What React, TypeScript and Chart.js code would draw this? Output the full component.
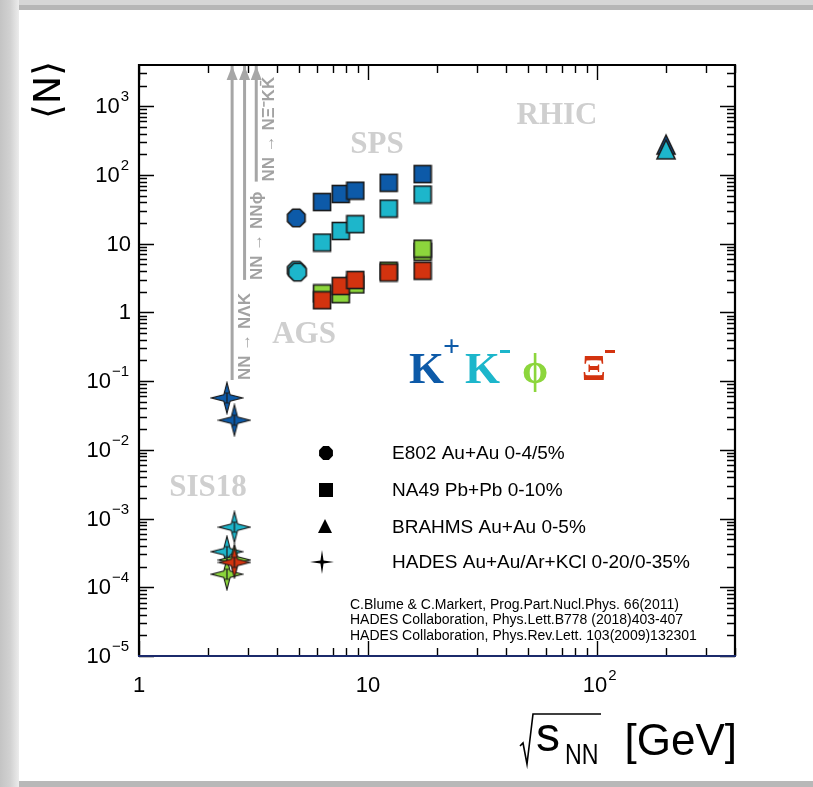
import { useEffect, useRef } from 'react';
import { Chart, registerables } from 'chart.js';

Chart.register(...registerables);

// ---- data: √s_NN in GeV, mean multiplicity ⟨N⟩ ----
const X_MIN = 1;
const X_MAX = 400;
const Y_MIN = 1e-5;
const Y_MAX = 3981;

const E802_SQRTS = [4.86];
const E802_KPLUS = [23.7];
const E802_KMINUS_SQRTS = [4.86, 4.92];
const E802_KMINUS = [4.1, 3.85];

const NA49_SQRTS = [6.3, 7.6, 8.8, 12.3, 17.3];
const NA49_KPLUS = [40.4, 52.9, 59.1, 76.9, 103.0];
const NA49_KMINUS = [10.4, 15.3, 19.2, 32.4, 51.9];
const NA49_XI = [1.5, 2.42, 2.96, 3.8, 4.04];
const NA49_PHI_SQRTS = [6.3, 7.6, 8.8, 12.3, 17.3, 17.3];
const NA49_PHI = [1.89, 1.84, 2.55, 4.04, 7.6, 8.46];

const BRAHMS_SQRTS = [200];
const BRAHMS_KPLUS = [272];
const BRAHMS_KMINUS = [232];

const HADES_KPLUS_SQRTS = [2.42, 2.61];
const HADES_KPLUS = [0.057, 0.027];
const HADES_KMINUS_SQRTS = [2.61, 2.42];
const HADES_KMINUS = [7.5e-4, 3.3e-4];
const HADES_PHI_SQRTS = [2.61, 2.42];
const HADES_PHI = [2.5e-4, 1.55e-4];
const HADES_XI_SQRTS = [2.61];
const HADES_XI = [2.3e-4];

// production thresholds in NN collisions
const THRESH_SQRTS = [2.55, 2.89, 3.25];
const THRESH_FROM = [0.104, 2.97, 80];
const THRESH_LABELS = ['NN → NΛK', 'NN → NNϕ', 'NN → NΞ⁻KK̄'];

const REGION_LABELS = ['SIS18', 'AGS', 'SPS', 'RHIC'];
const LEGEND_LABELS = [
  'E802 Au+Au 0-4/5%',
  'NA49 Pb+Pb 0-10%',
  'BRAHMS Au+Au 0-5%',
  'HADES Au+Au/Ar+KCl 0-20/0-35%',
];
const REFERENCES = [
  'C.Blume & C.Markert, Prog.Part.Nucl.Phys. 66(2011)',
  'HADES Collaboration, Phys.Lett.B778 (2018)403-407',
  'HADES Collaboration, Phys.Rev.Lett. 103(2009)132301',
];

// ---- styling ----
const W = 813;
const H = 787;
const PLOT = { left: 139, top: 65, right: 735, bottom: 656 };
const COL_KPLUS = '#0d5aa8';
const COL_KMINUS = '#1db6cb';
const COL_PHI = '#8cd63c';
const COL_XI = '#d3330f';
const EDGE = '#1a1a1a';
const SANS = "'Liberation Sans', Arial, Helvetica, sans-serif";
const SERIF = "'Liberation Serif', 'Times New Roman', serif";

type Ctx = CanvasRenderingContext2D;

function makeCanvas(w: number, h: number, draw: (c: Ctx) => void) {
  const c = document.createElement('canvas');
  c.width = w;
  c.height = h;
  const ctx = c.getContext('2d') as Ctx;
  draw(ctx);
  return c;
}

function octagonPath(ctx: Ctx, cx: number, cy: number, r: number) {
  ctx.beginPath();
  for (let k = 0; k < 8; k++) {
    const a = Math.PI / 8 + (k * Math.PI) / 4;
    const px = cx + r * Math.cos(a);
    const py = cy + r * Math.sin(a);
    if (k === 0) ctx.moveTo(px, py);
    else ctx.lineTo(px, py);
  }
  ctx.closePath();
}

function starPath(ctx: Ctx, cx: number, cy: number, ro: number, ri: number) {
  ctx.beginPath();
  for (let k = 0; k < 8; k++) {
    const a = -Math.PI / 2 + (k * Math.PI) / 4;
    const r = k % 2 === 0 ? ro : ri;
    const px = cx + r * Math.cos(a);
    const py = cy + r * Math.sin(a);
    if (k === 0) ctx.moveTo(px, py);
    else ctx.lineTo(px, py);
  }
  ctx.closePath();
}

function squareMarker(fill: string) {
  return makeCanvas(20, 20, (ctx) => {
    ctx.fillStyle = fill;
    ctx.fillRect(1.5, 1.5, 17, 17);
    ctx.strokeStyle = EDGE;
    ctx.lineWidth = 1.6;
    ctx.strokeRect(1.5, 1.5, 17, 17);
  });
}

function octagonMarker(fill: string) {
  return makeCanvas(22, 22, (ctx) => {
    octagonPath(ctx, 11, 11, 9.5);
    ctx.fillStyle = fill;
    ctx.fill();
    ctx.strokeStyle = EDGE;
    ctx.lineWidth = 1.6;
    ctx.stroke();
  });
}

function triangleMarker(fill: string) {
  return makeCanvas(22, 24, (ctx) => {
    ctx.beginPath();
    ctx.moveTo(11, 2);
    ctx.lineTo(20, 21);
    ctx.lineTo(2, 21);
    ctx.closePath();
    ctx.fillStyle = fill;
    ctx.fill();
    ctx.strokeStyle = EDGE;
    ctx.lineWidth = 1.6;
    ctx.stroke();
  });
}

function starMarker(fill: string) {
  return makeCanvas(34, 34, (ctx) => {
    starPath(ctx, 17, 17, 15.5, 4.5);
    ctx.fillStyle = fill;
    ctx.fill();
    ctx.strokeStyle = EDGE;
    ctx.lineWidth = 1.1;
    ctx.stroke();
    // systematic error bar
    ctx.beginPath();
    ctx.moveTo(17, 12);
    ctx.lineTo(17, 22);
    ctx.moveTo(14.5, 12);
    ctx.lineTo(19.5, 12);
    ctx.moveTo(14.5, 22);
    ctx.lineTo(19.5, 22);
    ctx.lineWidth = 1.2;
    ctx.stroke();
  });
}

function pts(xs: number[], ys: number[]) {
  return ys.map((y, i) => ({ x: xs[i], y }));
}

function markerSet(xs: number[], ys: number[], style: HTMLCanvasElement) {
  return {
    data: pts(xs, ys),
    pointStyle: style,
    pointRadius: 10,
    pointHoverRadius: 10,
    showLine: false,
  };
}

function drawPow(ctx: Ctx, exp: string, x: number, y: number, align: 'right' | 'center') {
  ctx.font = `22px ${SANS}`;
  const wb = ctx.measureText('10').width;
  ctx.font = `15px ${SANS}`;
  const we = ctx.measureText(exp).width;
  const x0 = align === 'right' ? x - wb - we - 1 : x - wb / 2;
  ctx.textAlign = 'left';
  ctx.textBaseline = 'middle';
  ctx.font = `22px ${SANS}`;
  ctx.fillText('10', x0, y);
  ctx.font = `15px ${SANS}`;
  ctx.fillText(exp, x0 + wb + 1, y - 10);
}

function logTicks(min: number, max: number) {
  const out: { v: number; major: boolean }[] = [];
  for (let d = Math.floor(Math.log10(min)); d <= Math.ceil(Math.log10(max)); d++) {
    for (let m = 1; m <= 9; m++) {
      const v = m * Math.pow(10, d);
      if (v >= min * 0.9999 && v <= max * 1.0001) out.push({ v, major: m === 1 });
    }
  }
  return out;
}

const decorations = {
  id: 'decorations',
  beforeDraw(chart: any) {
    const ctx: Ctx = chart.ctx;
    ctx.save();
    ctx.fillStyle = '#ffffff';
    ctx.fillRect(0, 0, W, H);
    // picture frame
    ctx.fillStyle = '#d6d6d6';
    ctx.fillRect(0, 0, W, 5);
    ctx.fillStyle = '#b6b6b6';
    ctx.fillRect(0, 5, W, 5);
    const g = ctx.createLinearGradient(0, 0, 19, 0);
    g.addColorStop(0, '#c4c4c4');
    g.addColorStop(0.55, '#d2d2d2');
    g.addColorStop(1, '#ececec');
    ctx.fillStyle = g;
    ctx.fillRect(0, 0, 19, H);
    ctx.fillStyle = '#b8b8b8';
    ctx.fillRect(19, 781, W - 19, 6);
    ctx.restore();
  },
  beforeDatasetsDraw(chart: any) {
    const ctx: Ctx = chart.ctx;
    const xs = chart.scales.x;
    const ys = chart.scales.y;
    ctx.save();

    // accelerator regions
    ctx.fillStyle = '#cfcfcf';
    ctx.font = `bold 31px ${SERIF}`;
    ctx.textAlign = 'center';
    ctx.textBaseline = 'middle';
    const regionPos = [
      [208, 488],
      [304, 335],
      [377, 145],
      [557, 116],
    ];
    REGION_LABELS.forEach((t, i) => ctx.fillText(t, regionPos[i][0], regionPos[i][1]));

    // particle key
    ctx.textAlign = 'left';
    ctx.textBaseline = 'alphabetic';
    ctx.fillStyle = COL_KPLUS;
    ctx.font = `bold 45px ${SERIF}`;
    ctx.fillText('K', 409, 383);
    ctx.font = `bold 30px ${SERIF}`;
    ctx.fillText('+', 443, 356);
    ctx.fillStyle = COL_KMINUS;
    ctx.font = `bold 45px ${SERIF}`;
    ctx.fillText('K', 465, 383);
    ctx.fillRect(500, 350, 10, 3);
    ctx.fillStyle = COL_PHI;
    ctx.font = `bold 42px ${SERIF}`;
    ctx.fillText('ϕ', 522, 383);
    ctx.fillStyle = COL_XI;
    ctx.font = `bold 35px ${SERIF}`;
    ctx.fillText('Ξ', 582, 380);
    ctx.fillRect(605, 350, 10, 3);

    // experiment legend
    const legendY = [453, 490, 527, 562];
    const lx = 326;
    ctx.fillStyle = '#000';
    octagonPath(ctx, lx, legendY[0], 7.5);
    ctx.fill();
    ctx.fillRect(lx - 7, legendY[1] - 7, 14, 14);
    ctx.beginPath();
    ctx.moveTo(lx - 1, legendY[2] - 8);
    ctx.lineTo(lx + 6, legendY[2] + 6);
    ctx.lineTo(lx - 8, legendY[2] + 6);
    ctx.closePath();
    ctx.fill();
    starPath(ctx, lx - 4, legendY[3], 12, 2.2);
    ctx.fill();
    ctx.font = `19px ${SANS}`;
    ctx.textBaseline = 'middle';
    LEGEND_LABELS.forEach((t, i) => ctx.fillText(t, 392, legendY[i] + 1));

    // references
    ctx.font = `14px ${SANS}`;
    const refW = [339, 357, 371];
    const refY = [605, 620.5, 636];
    REFERENCES.forEach((t, i) => ctx.fillText(t, 350, refY[i], refW[i]));

    // threshold labels along the arrows
    ctx.fillStyle = '#a2a2a2';
    ctx.font = `bold 17px ${SANS}`;
    THRESH_SQRTS.forEach((s, i) => {
      const px = xs.getPixelForValue(s) + 13;
      const py = ys.getPixelForValue(THRESH_FROM[i]);
      ctx.save();
      ctx.translate(px, py);
      ctx.rotate(-Math.PI / 2);
      ctx.textAlign = 'left';
      ctx.textBaseline = 'middle';
      ctx.fillText(THRESH_LABELS[i], 0, 0);
      ctx.restore();
    });
    ctx.restore();
  },
  afterDraw(chart: any) {
    const ctx: Ctx = chart.ctx;
    const xs = chart.scales.x;
    const ys = chart.scales.y;
    const { left, right, top, bottom } = chart.chartArea;
    ctx.save();

    // arrow heads
    ctx.fillStyle = '#a6a6a6';
    THRESH_SQRTS.forEach((s) => {
      const px = xs.getPixelForValue(s);
      ctx.beginPath();
      ctx.moveTo(px, top + 1);
      ctx.lineTo(px + 5.5, top + 15);
      ctx.lineTo(px - 5.5, top + 15);
      ctx.closePath();
      ctx.fill();
    });

    // ticks on all four sides
    ctx.strokeStyle = '#000';
    ctx.lineWidth = 1.4;
    ctx.beginPath();
    logTicks(X_MIN, X_MAX).forEach(({ v, major }) => {
      const px = Math.round(xs.getPixelForValue(v)) + 0.5;
      const len = major ? 15 : 8;
      ctx.moveTo(px, bottom);
      ctx.lineTo(px, bottom - len);
      ctx.moveTo(px, top);
      ctx.lineTo(px, top + len);
    });
    logTicks(Y_MIN, Y_MAX).forEach(({ v, major }) => {
      const py = Math.round(ys.getPixelForValue(v)) + 0.5;
      const len = major ? 15 : 8;
      ctx.moveTo(left, py);
      ctx.lineTo(left + len, py);
      ctx.moveTo(right, py);
      ctx.lineTo(right - len, py);
    });
    ctx.stroke();

    // frame
    ctx.lineWidth = 2.2;
    ctx.beginPath();
    ctx.moveTo(left, bottom);
    ctx.lineTo(left, top);
    ctx.lineTo(right, top);
    ctx.lineTo(right, bottom);
    ctx.stroke();
    ctx.strokeStyle = '#1b2a6b';
    ctx.beginPath();
    ctx.moveTo(left - 1, bottom);
    ctx.lineTo(right + 1, bottom);
    ctx.stroke();

    // tick labels
    ctx.fillStyle = '#000';
    ctx.textBaseline = 'middle';
    for (let d = -5; d <= 3; d++) {
      const py = ys.getPixelForValue(Math.pow(10, d)) + 1;
      if (d === 0 || d === 1) {
        ctx.font = `22px ${SANS}`;
        ctx.textAlign = 'right';
        ctx.fillText(d === 0 ? '1' : '10', 131, py);
      } else {
        drawPow(ctx, d < 0 ? `−${-d}` : `${d}`, 129, py, 'right');
      }
    }
    for (let d = 0; d <= 2; d++) {
      const px = xs.getPixelForValue(Math.pow(10, d));
      if (d < 2) {
        ctx.font = `22px ${SANS}`;
        ctx.textAlign = 'center';
        ctx.fillText(d === 0 ? '1' : '10', px, 686);
      } else {
        drawPow(ctx, '2', px - 2, 686, 'center');
      }
    }

    // axis titles
    ctx.save();
    ctx.translate(50, 90);
    ctx.rotate(-Math.PI / 2);
    ctx.textAlign = 'center';
    ctx.textBaseline = 'middle';
    ctx.font = `38px 'DejaVu Sans', ${SANS}`;
    ctx.fillText('⟨N⟩', 0, 0);
    ctx.restore();

    ctx.lineWidth = 1.6;
    ctx.strokeStyle = '#000';
    ctx.beginPath();
    ctx.moveTo(520, 746);
    ctx.lineTo(523, 743);
    ctx.lineTo(527, 764);
    ctx.lineTo(533, 714);
    ctx.lineTo(601, 714);
    ctx.stroke();
    ctx.textAlign = 'left';
    ctx.textBaseline = 'alphabetic';
    ctx.font = `48px ${SANS}`;
    ctx.fillText('s', 536, 751);
    ctx.save();
    ctx.translate(565, 764);
    ctx.scale(0.8, 1);
    ctx.font = `29px ${SANS}`;
    ctx.fillText('NN', 0, 0);
    ctx.restore();
    ctx.font = `44px ${SANS}`;
    ctx.textAlign = 'right';
    ctx.fillText('[GeV]', 737, 755);
    ctx.restore();
  },
};

export default function App() {
  const ref = useRef<HTMLCanvasElement | null>(null);

  useEffect(() => {
    const canvas = ref.current;
    if (!canvas) return;

    const datasets: any[] = [
      // Ξ⁻
      markerSet(HADES_XI_SQRTS, HADES_XI, starMarker(COL_XI)),
      markerSet(NA49_SQRTS, NA49_XI, squareMarker(COL_XI)),
      // ϕ
      markerSet(HADES_PHI_SQRTS, HADES_PHI, starMarker(COL_PHI)),
      markerSet(NA49_PHI_SQRTS, NA49_PHI, squareMarker(COL_PHI)),
      // K⁻
      markerSet(HADES_KMINUS_SQRTS, HADES_KMINUS, starMarker(COL_KMINUS)),
      markerSet(E802_KMINUS_SQRTS, E802_KMINUS, octagonMarker(COL_KMINUS)),
      markerSet(NA49_SQRTS, NA49_KMINUS, squareMarker(COL_KMINUS)),
      markerSet(BRAHMS_SQRTS, BRAHMS_KMINUS, triangleMarker(COL_KMINUS)),
      // K⁺
      markerSet(HADES_KPLUS_SQRTS, HADES_KPLUS, starMarker(COL_KPLUS)),
      markerSet(E802_SQRTS, E802_KPLUS, octagonMarker(COL_KPLUS)),
      markerSet(NA49_SQRTS, NA49_KPLUS, squareMarker(COL_KPLUS)),
      markerSet(BRAHMS_SQRTS, BRAHMS_KPLUS, triangleMarker(COL_KPLUS)),
    ];
    // threshold arrows
    THRESH_SQRTS.forEach((s, i) => {
      datasets.push({
        data: [
          { x: s, y: THRESH_FROM[i] },
          { x: s, y: Y_MAX },
        ],
        showLine: true,
        borderColor: '#a6a6a6',
        borderWidth: 3,
        pointRadius: 0,
        pointHoverRadius: 0,
      });
    });

    const chart = new Chart(canvas, {
      type: 'scatter',
      data: { datasets },
      options: {
        animation: false,
        responsive: false,
        maintainAspectRatio: false,
        devicePixelRatio: 1,
        events: [],
        layout: {
          padding: {
            left: PLOT.left,
            top: PLOT.top,
            right: W - PLOT.right,
            bottom: H - PLOT.bottom,
          },
        },
        scales: {
          x: { type: 'logarithmic', min: X_MIN, max: X_MAX, display: false },
          y: { type: 'logarithmic', min: Y_MIN, max: Y_MAX, display: false },
        },
        plugins: {
          legend: { display: false },
          tooltip: { enabled: false },
        },
      },
      plugins: [decorations],
    } as any);

    return () => chart.destroy();
  }, []);

  return (
    <div style={{ position: 'absolute', left: 0, top: 0, width: W, height: H }}>
      <canvas ref={ref} width={W} height={H} style={{ display: 'block', width: W, height: H }} />
    </div>
  );
}
